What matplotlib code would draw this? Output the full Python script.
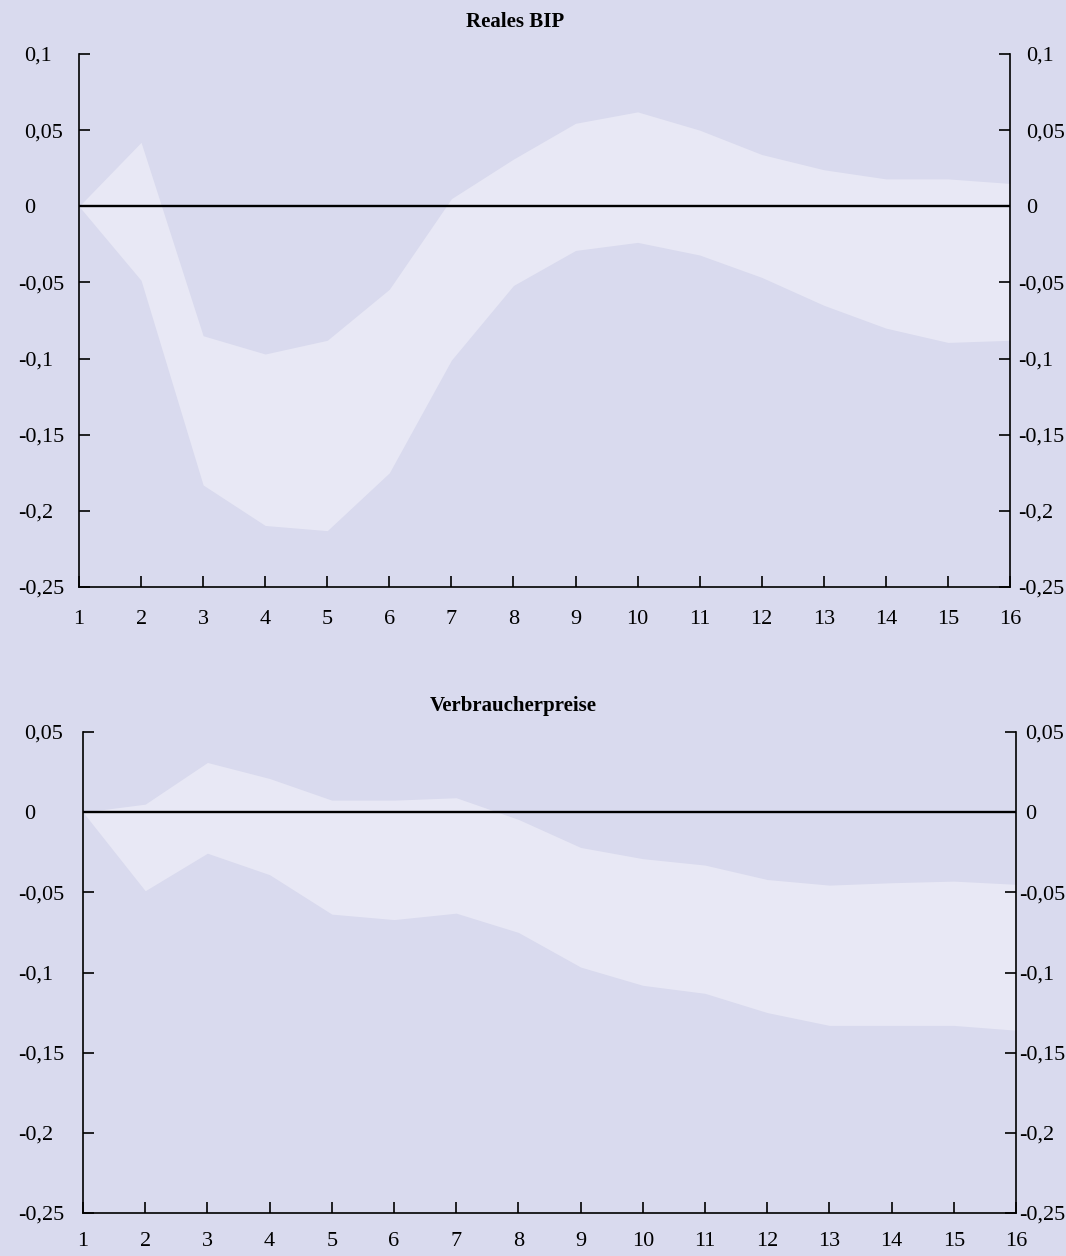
import matplotlib
matplotlib.use("Agg")
import matplotlib.pyplot as plt
import matplotlib.transforms as mtrans

plt.rcParams['font.family'] = ['Liberation Serif', 'DejaVu Serif']

BG = '#d9daee'
BAND = '#e8e8f5'

periods = list(range(1, 17))

bip_upper = [0.0, 0.042, -0.085, -0.097, -0.088, -0.0545, 0.005, 0.031, 0.0545, 0.062,
             0.050, 0.034, 0.024, 0.018, 0.018, 0.015]
bip_lower = [0.0, -0.0486, -0.183, -0.2096, -0.213, -0.175, -0.101, -0.052, -0.029, -0.0237,
             -0.032, -0.0467, -0.065, -0.080, -0.0894, -0.088]

vpi_upper = [0.0, 0.005, 0.031, 0.021, 0.0075, 0.0075, 0.009, -0.0045, -0.022, -0.029,
             -0.033, -0.042, -0.0455, -0.044, -0.043, -0.045]
vpi_lower = [0.0, -0.049, -0.0256, -0.039, -0.0636, -0.067, -0.063, -0.075, -0.0966, -0.108,
             -0.113, -0.125, -0.133, -0.133, -0.133, -0.136]

bip_yticks = [0.1, 0.05, 0, -0.05, -0.1, -0.15, -0.2, -0.25]
bip_ylabels = ['0,1', '0,05', '0', '-0,05', '-0,1', '-0,15', '-0,2', '-0,25']
vpi_yticks = [0.05, 0, -0.05, -0.1, -0.15, -0.2, -0.25]
vpi_ylabels = ['0,05', '0', '-0,05', '-0,1', '-0,15', '-0,2', '-0,25']

W, H = 1066, 1256
fig = plt.figure(figsize=(W / 100, H / 100), dpi=100)
fig.patch.set_facecolor(BG)

PX = 72 / 100  # points per pixel
FS = 16


def make_panel(rect, upper, lower, yticks, ylabels, ylim, title, title_xy,
               lpad, rpad, xpad):
    ax = fig.add_axes(rect)
    ax.set_facecolor(BG)
    ax.fill_between(periods, lower, upper, color=BAND, linewidth=0, zorder=1)
    ax.axhline(0, color='black', linewidth=1.7, zorder=3)
    ax.set_xlim(1, 16)
    ax.set_ylim(*ylim)
    ax.spines['top'].set_visible(False)
    for s in ['left', 'right', 'bottom']:
        ax.spines[s].set_linewidth(1.2)
        ax.spines[s].set_color('black')
        ax.spines[s].set_zorder(4)
    ax.set_xticks(periods)
    ax.set_xticklabels([str(p) for p in periods])
    ax.set_yticks(yticks)
    ax.set_yticklabels(ylabels)
    ax.tick_params(axis='y', which='major', direction='in', length=8, width=1.2,
                   left=True, right=True, labelleft=True, labelright=True,
                   labelsize=FS)
    ax.tick_params(axis='x', which='major', direction='in', length=8, width=1.2,
                   labelsize=FS, pad=xpad * PX)
    ticks = ax.yaxis.get_major_ticks()
    for tk, lab in zip(ticks, ylabels):
        neg = lab.startswith('-')
        tk.label1.set_horizontalalignment('left')
        tk.set_pad((lpad + (6 if neg else 0)) * PX)
        shift = rpad[1] if neg else rpad[0]
        tk.label2.set_transform(ax.get_yaxis_transform(which='tick2') +
                                mtrans.ScaledTranslation(shift / 100, 0, fig.dpi_scale_trans))
    fig.text(title_xy[0] / W, 1 - title_xy[1] / H, title, ha='center', va='center',
             fontsize=15, fontweight='bold')
    return ax


ax1 = make_panel([79 / W, 1 - 587 / H, (1010 - 79) / W, (587 - 54) / H],
                 bip_upper, bip_lower, bip_yticks, bip_ylabels, (-0.25, 0.1),
                 'Reales BIP', (515, 22), 55, (16, 8), 23)
ax2 = make_panel([83 / W, 1 - 1213 / H, (1016 - 83) / W, (1213 - 732) / H],
                 vpi_upper, vpi_lower, vpi_yticks, vpi_ylabels, (-0.25, 0.05),
                 'Verbraucherpreise', (513, 706), 59, (9, 3), 19)

fig.savefig('out.png', dpi=100, facecolor=BG)
